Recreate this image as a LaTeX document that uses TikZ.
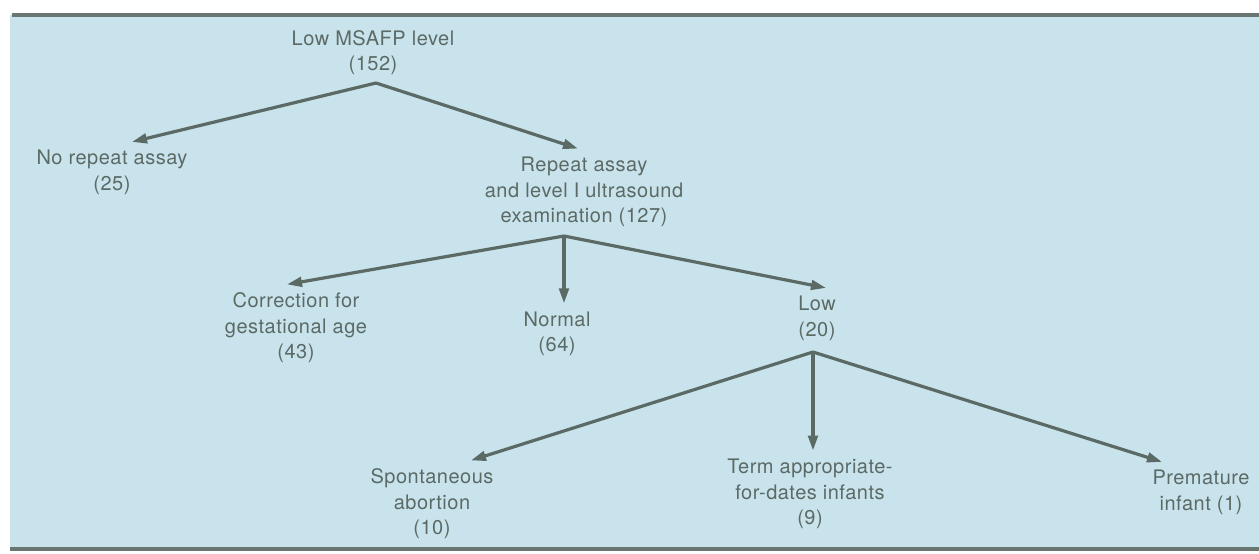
\documentclass[tikz,border=0pt]{standalone}
\usepackage{fontspec}
\setmainfont{TeX Gyre Heros}[LetterSpace=2.5]
\usepackage{tikz}
\usepackage{xcolor}
\usetikzlibrary{arrows.meta}

\definecolor{bgblue}{RGB}{200,227,235}
\definecolor{ink}{RGB}{92,106,102}
\definecolor{rulegray}{RGB}{105,118,114}

\begin{document}
\begin{tikzpicture}[x=0.5pt, y=-0.5pt,
    box/.style={align=center, inner sep=4pt, text=ink,
        font=\fontsize{10}{12.8}\selectfont},
    arr/.style={draw=ink, line width=1.6pt,
        -{Triangle[length=7.5pt, width=4.8pt]}}]
    \useasboundingbox (0,0) rectangle (1259,553);

    % Panel
    \fill[bgblue] (10,15) rectangle (1259,549);
    \draw[rulegray, line width=1.6pt] (12,15) -- (1259,15);
    \draw[rulegray, line width=1.6pt] (10,549) -- (1259,549);

    % Nodes
    \node[box] (top) at (373,52.5) {Low MSAFP level\\(152)};
    \node[box] (norep) at (112,172.5) {No repeat assay\\(25)};
    \node[box] (rep) at (584,192) {Repeat assay\\and level I ultrasound\\examination (127)};
    \node[box] (corr) at (296,328) {Correction for\\gestational age\\(43)};
    \node[box] (normal) at (557,334) {Normal\\(64)};
    \node[box] (low) at (817,318.5) {Low\\(20)};
    \node[box] (spont) at (432,504) {Spontaneous\\abortion\\(10)};
    \node[box] (term) at (810,494) {Term appropriate-\\for-dates infants\\(9)};
    \node[box] (prem) at (1201,492.5) {Premature\\infant (1)};

    % Branch points
    \coordinate (a0) at (376,83);
    \coordinate (a1) at (564,236);
    \coordinate (a2) at (813,352);

    % Arrows
    \draw[arr] (a0) -- ([xshift=10pt]norep.north);
    \draw[arr] (a0) -- ([xshift=-3pt]rep.north);
    \draw[arr] (a1) -- ([xshift=-4.5pt]corr.north);
    \draw[arr] (a1) -- ([xshift=3.5pt]normal.north);
    \draw[arr] (a1) -- ([xshift=4.5pt]low.north);
    \draw[arr] (a2) -- ([xshift=19.5pt]spont.north);
    \draw[arr] (a2) -- ([xshift=1.5pt]term.north);
    \draw[arr] (a2) -- ([xshift=-19.5pt]prem.north);

\end{tikzpicture}
\end{document}
